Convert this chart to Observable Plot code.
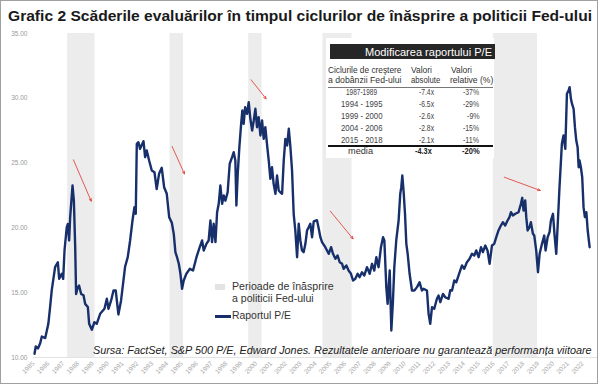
<!DOCTYPE html>
<html><head><meta charset="utf-8">
<script src="https://cdn.jsdelivr.net/npm/d3@7"></script>
<script src="https://cdn.jsdelivr.net/npm/@observablehq/plot@0.6"></script>
<style>
html,body{margin:0;padding:0;background:#fff;}
#wrap{position:relative;width:600px;height:385px;overflow:hidden;font-family:"Liberation Sans",Arial,sans-serif;}
#frame{position:absolute;left:0;top:0;width:598px;height:384px;border:1px solid #a0a0a0;box-sizing:border-box;pointer-events:none;}
.t{position:absolute;white-space:nowrap;transform-origin:0 0;}
.box{position:absolute;}
#chart{position:absolute;left:0;top:0;}
</style></head>
<body><div id="wrap"><div id="chart"></div></div>
<script>
// ---- data ----
const titleText = "Grafic 2 Scăderile evaluărilor în timpul ciclurilor de înăsprire a politicii Fed-ului";
const captionText = "Sursa: FactSet, S&P 500 P/E, Edward Jones. Rezultatele anterioare nu garantează performanța viitoare";
const legendBand = ["Perioade de înăsprire", "a politicii Fed-ului"];
const legendLine = "Raportul P/E";

const dates = [
1985.07,1985.15,1985.3,1985.45,1985.56,1985.79,1986.0,1986.12,1986.23,1986.46,1986.64,1986.73,1986.9,1987.0,1987.09,1987.24,1987.31,1987.4,1987.47,1987.63,1987.72,1987.81,1987.87,1987.98,1988.07,1988.21,1988.37,1988.48,1988.66,1988.75,1988.93,1989.1,1989.26,1989.49,1989.78,1989.94,1990.05,1990.23,1990.39,1990.54,1990.72,1990.9,1991.17,1991.35,1991.51,1991.67,1991.8,1991.89,1991.96,1992.07,1992.18,1992.41,1992.52,1992.63,1992.79,1992.97,1993.15,1993.3,1993.46,1993.64,1993.8,1993.98,1994.14,1994.32,1994.45,1994.56,1994.67,1994.79,1994.9,1995.01,1995.12,1995.3,1995.53,1995.75,1995.98,1996.2,1996.36,1996.47,1996.65,1996.8,1996.92,1997.03,1997.14,1997.26,1997.37,1997.48,1997.59,1997.71,1997.82,1997.93,1998.08,1998.22,1998.38,1998.49,1998.6,1998.67,1998.76,1998.87,1998.99,1999.07,1999.16,1999.26,1999.39,1999.5,1999.61,1999.73,1999.84,1999.95,2000.06,2000.17,2000.29,2000.4,2000.51,2000.62,2000.74,2000.85,2000.96,2001.07,2001.18,2001.3,2001.41,2001.52,2001.63,2001.75,2001.86,2001.97,2002.09,2002.2,2002.31,2002.42,2002.53,2002.64,2002.76,2002.87,2002.98,2003.09,2003.2,2003.32,2003.43,2003.54,2003.65,2003.77,2003.88,2004.1,2004.21,2004.33,2004.44,2004.66,2004.89,2005.05,2005.18,2005.34,2005.49,2005.63,2005.79,2005.9,2006.08,2006.23,2006.39,2006.53,2006.68,2006.84,2006.97,2007.13,2007.29,2007.47,2007.65,2007.81,2007.96,2008.1,2008.25,2008.41,2008.55,2008.64,2008.77,2008.86,2009.0,2009.11,2009.22,2009.31,2009.44,2009.6,2009.71,2009.78,2009.85,2009.94,2010.03,2010.12,2010.21,2010.34,2010.5,2010.66,2010.84,2011.01,2011.17,2011.28,2011.51,2011.62,2011.73,2011.85,2012.0,2012.18,2012.29,2012.41,2012.59,2012.74,2012.97,2013.08,2013.2,2013.35,2013.49,2013.64,2013.87,2014.02,2014.2,2014.38,2014.54,2014.7,2014.83,2014.99,2015.15,2015.28,2015.44,2015.59,2015.73,2015.89,2016.04,2016.18,2016.33,2016.49,2016.63,2016.78,2016.94,2017.07,2017.17,2017.3,2017.46,2017.68,2017.84,2017.93,2018.02,2018.13,2018.2,2018.29,2018.42,2018.51,2018.65,2018.74,2018.87,2018.99,2019.1,2019.26,2019.41,2019.5,2019.64,2019.77,2019.86,2020.0,2020.1,2020.22,2020.31,2020.44,2020.6,2020.71,2020.83,2020.94,2021.05,2021.12,2021.21,2021.28,2021.39,2021.48,2021.57,2021.66,2021.73,2021.79,2021.88,2021.97,2022.06,2022.15,2022.25,2022.34,2022.47
];
const pe = [
10.29,10.85,10.7,11.1,11.62,11.5,12.6,13.9,15.2,17.0,17.35,16.07,16.46,16.07,18.26,20.05,20.3,19.03,20.83,23.27,22.1,18.5,14.9,15.4,15.55,14.9,14.8,14.14,13.9,12.6,12.14,12.72,12.6,13.37,13.76,14.53,13.76,14.4,15.17,15.17,13.32,14.4,17.0,17.74,19.03,20.57,21.6,21.09,26.49,26.61,26.1,26.69,25.46,25.97,25.2,24.43,24.3,23.0,24.17,24.64,23.14,22.63,20.83,20.4,19.54,18.13,17.74,17.23,16.46,15.3,15.94,16.46,16.84,16.71,17.74,18.51,19.03,18.26,18.77,19.03,20.57,18.9,20.32,18.9,21.21,21.86,23.27,21.86,22.5,22.1,22.75,24.95,25.46,25.84,25.2,21.73,24.17,26.23,28.03,29.06,28.03,29.31,28.8,29.7,28.42,27.52,28.29,29.19,27.77,28.54,27.13,28.29,26.87,27.77,26.36,25.2,23.79,24.68,23.4,22.63,24.04,22.89,22.75,22.63,25.2,26.87,26.36,27.65,26.23,24.43,21.09,19.8,17.74,20.32,19.03,18.26,18.13,18.77,19.8,20.05,20.32,19.28,20.5,20.6,20.0,19.28,18.9,18.51,18.0,18.51,18.0,17.62,17.87,17.35,17.23,16.84,17.1,16.71,16.46,15.94,16.07,16.46,16.2,16.58,16.33,16.97,16.46,17.23,16.71,17.74,16.97,18.51,19.28,19.03,15.43,14.14,16.71,12.08,14.4,16.97,19.03,20.57,22.63,23.14,24.04,22.75,21.09,18.77,18.0,16.46,15.17,15.17,15.43,15.81,15.17,15.3,15.17,13.37,12.6,13.88,13.76,14.53,14.78,14.27,14.91,14.65,14.53,15.2,15.17,15.94,15.81,16.33,17.1,16.84,17.35,17.62,18.0,17.87,18.26,17.74,18.51,18.13,18.64,18.26,17.23,18.64,18.77,19.28,19.8,20.18,20.44,20.18,20.57,20.83,21.21,20.96,21.09,21.21,21.86,22.32,21.34,22.11,20.83,19.8,20.05,20.44,19.54,19.41,18.26,16.58,18.0,18.77,19.41,18.26,19.28,19.67,20.57,21.09,19.54,18.0,20.05,23.14,26.49,27.13,26.1,30.35,30.6,30.86,29.96,29.58,29.19,27.77,26.74,26.23,24.68,25.2,24.68,23.91,21.6,20.83,21.21,19.8,18.51
];

const bandStart = [1987.3, 1994.2, 1999.5, 2004.5, 2015.98];
const bandEnd   = [1989.15, 1995.1, 2000.4, 2006.46, 2018.96];

// red arrows (data coordinates)
const arrowX1 = [1987.69, 1994.34, 1999.66, 2005.0, 2016.72];
const arrowY1 = [25.25, 26.28, 31.43, 21.29, 23.91];
const arrowX2 = [1988.89, 1995.17, 2000.67, 2006.53, 2019.14];
const arrowY2 = [22.06, 24.17, 29.96, 19.16, 22.89];

const yTicks = [10, 15, 20, 25, 30, 35];
const xTicks = d3.range(1985, 2023);

// table
const tableTitle = "Modificarea raportului P/E";
const colHead1 = ["Ciclurile de creştere", "a dobânzii Fed-ului"];
const colHead2 = ["Valori", "absolute"];
const colHead3 = ["Valori", "relative (%)"];
const cycles  = ["1987-1989", "1994 - 1995", "1999 - 2000", "2004 - 2006", "2015 - 2018"];
const absVals = ["-7.4x", "-6.5x", "-2.6x", "-2.8x", "-2.1x"];
const relVals = ["-37%", "-29%", "-9%", "-15%", "-11%"];
const avgLabel = "media", avgAbs = "-4.3x", avgRel = "-20%";

// ---- chart ----
const series = dates.map((t, i) => ({t, pe: pe[i]}));
const bands = bandStart.map((s, i) => ({start: s, end: bandEnd[i]}));
const arrows = arrowX1.map((x, i) => ({x1: x, y1: arrowY1[i], x2: arrowX2[i], y2: arrowY2[i]}));

const chart = Plot.plot({
  width: 600, height: 385,
  marginTop: 33, marginBottom: 28, marginLeft: 33, marginRight: 3,
  style: {fontFamily: '"Liberation Sans", Arial, sans-serif', background: "transparent"},
  x: {domain: [1985, 2023]},
  y: {domain: [10, 35]},
  marks: [
    Plot.rect(bands, {x1: "start", x2: "end", fill: "#ececec"}),
    Plot.ruleY([10], {stroke: "#e2e2e2", strokeWidth: 1}),
    Plot.line(series, {x: "t", y: "pe", stroke: "#17306b", strokeWidth: 2.4, strokeLinejoin: "round"}),
    Plot.arrow(arrows, {x1: "x1", y1: "y1", x2: "x2", y2: "y2", stroke: "#e0342c", strokeWidth: 0.8, headLength: 5, headAngle: 50}),
    Plot.axisY({ticks: yTicks, tickFormat: d3.format(".2f"), tickSize: 0, tickPadding: 6, fontSize: 6.5, color: "#9a9a9a"}),
    Plot.axisX({ticks: xTicks, tickFormat: d => String(d), tickRotate: -45, tickSize: 0, tickPadding: 5, fontSize: 6.5, color: "#a8a8a8"})
  ]
});
document.getElementById("chart").appendChild(chart);

// ---- overlay text ----
const wrap = document.getElementById("wrap");
const ctx = document.createElement("canvas").getContext("2d");
function box(x, y, w, h, bg) {
  const d = document.createElement("div");
  d.className = "box";
  Object.assign(d.style, {left: x + "px", top: y + "px", width: w + "px", height: h + "px", background: bg});
  wrap.appendChild(d);
}
function put(txt, o) {
  const size = o.size, weight = o.weight || "normal", style = o.style || "normal";
  const font = `${style} ${weight} ${size}px "Liberation Sans", Arial, sans-serif`;
  ctx.font = font;
  const m = ctx.measureText(txt).width;
  const w = o.w || m;
  const k = w / m;
  const s = document.createElement("span");
  s.className = "t";
  s.textContent = txt;
  s.style.font = font;
  s.style.lineHeight = size + "px";
  s.style.color = o.color || "#222";
  const left = o.align === "right" ? o.x - w : o.align === "center" ? o.x - w / 2 : o.x;
  s.style.left = left + "px";
  s.style.top = (o.y - 0.8465 * size) + "px";
  s.style.transform = `scaleX(${k})`;
  wrap.appendChild(s);
}

// title
put(titleText, {x: 8, y: 21, w: 584, size: 15.5, weight: "bold", color: "#1a1a1a"});

// table
box(326, 38, 168, 120, "#fff");
box(330, 44, 165, 15, "#262626");
put(tableTitle, {x: 365, y: 56.3, w: 127, size: 11.5, color: "#fff"});
put(colHead1[0], {x: 328.3, y: 73.2, w: 73.4, size: 9, color: "#333"});
put(colHead1[1], {x: 328.3, y: 83.2, w: 73.4, size: 9, color: "#333"});
put(colHead2[0], {x: 410.7, y: 73.2, w: 21, size: 9, color: "#333"});
put(colHead2[1], {x: 410.7, y: 83.2, w: 29.3, size: 9, color: "#333"});
put(colHead3[0], {x: 450.7, y: 73.2, w: 21, size: 9, color: "#333"});
put(colHead3[1], {x: 450, y: 83.2, w: 43.3, size: 9, color: "#333"});
box(328, 86.6, 165, 1, "#777");
const rowY = [95, 107.2, 119.4, 131.4, 143];
cycles.forEach((c, i) => {
  put(c, {x: 361.5, y: rowY[i], w: c.length > 9 ? 41.5 : 31, size: 8.5, color: "#444", align: "center"});
  put(absVals[i], {x: 434, y: rowY[i], w: 15, size: 8.5, color: "#444", align: "right"});
  put(relVals[i], {x: 479.3, y: rowY[i], w: relVals[i].length > 3 ? 16 : 12.7, size: 8.5, color: "#444", align: "right"});
});
box(328, 145, 165, 1.6, "#111");
put(avgLabel, {x: 360.5, y: 154.5, w: 25, size: 9, color: "#333", align: "center"});
put(avgAbs, {x: 432, y: 154.5, w: 16.7, size: 8.5, weight: "bold", color: "#222", align: "right"});
put(avgRel, {x: 479.3, y: 154.5, w: 17.7, size: 8.5, weight: "bold", color: "#222", align: "right"});

// legend
box(215, 284, 10, 6, "#e3e3e3");
put(legendBand[0], {x: 231.7, y: 290, w: 101.6, size: 10.5, color: "#333"});
put(legendBand[1], {x: 231.7, y: 301.7, w: 81.7, size: 10.5, color: "#333"});
box(215, 315, 16, 2.5, "#17306b");
put(legendLine, {x: 231.7, y: 319.3, w: 59, size: 10.5, color: "#333"});

// caption
put(captionText, {x: 93, y: 354.5, w: 499, size: 10.7, style: "italic", color: "#222"});

// frame
const fr = document.createElement("div");
fr.id = "frame";
wrap.appendChild(fr);
</script>
</body></html>
